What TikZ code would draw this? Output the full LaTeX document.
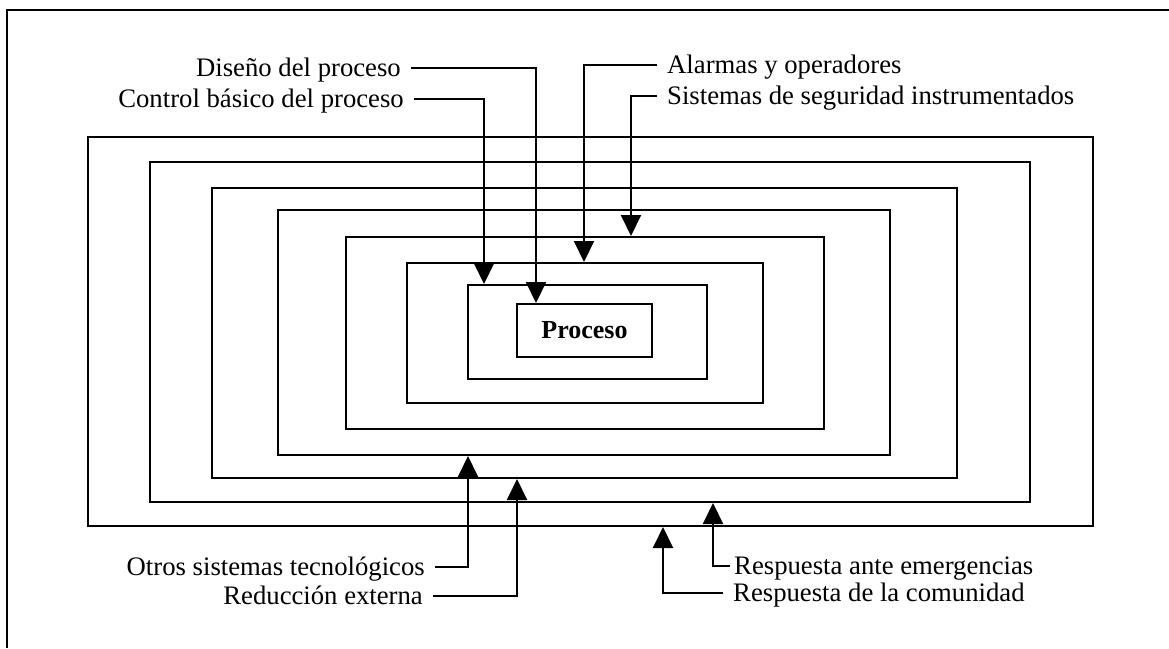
\documentclass[tikz,border=0pt]{standalone}
\usepackage{fontspec}
\setmainfont{Liberation Serif}
\usepackage{tikz}
\usetikzlibrary{arrows.meta}
\tikzstyle{layer} = [rectangle, draw=black, line width=2pt, inner sep=0pt]
\tikzstyle{tag} = [inner ysep=0pt, inner xsep=10pt, text height=19pt, text depth=3pt, font=\fontsize{26.7}{30}\selectfont]
\tikzstyle{arrow} = [line width=2pt, -{Triangle[length=21pt,width=20pt]}]

\begin{document}
\begin{tikzpicture}[x=1pt, y=-1pt]
        \useasboundingbox (0,0) rectangle (1169,648);
        \draw [line width=2pt] (1169,10) -| (7,648);

        % layers, outermost first
        \node (comunidad) [layer, minimum width=1005pt, minimum height=389pt] at (590.5,331.5) {};
        \node (emergencias) [layer, minimum width=880pt, minimum height=340pt] at (590,332) {};
        \node (reduccion) [layer, minimum width=745pt, minimum height=290pt] at (584.5,333) {};
        \node (otros) [layer, minimum width=612pt, minimum height=245pt] at (584,332.5) {};
        \node (sis) [layer, minimum width=478pt, minimum height=192pt] at (585,333) {};
        \node (alarmas) [layer, minimum width=356pt, minimum height=140pt] at (585,333) {};
        \node (control) [layer, minimum width=239pt, minimum height=94pt] at (587.5,332) {};
        \node (proceso) [layer, minimum width=135pt, minimum height=53pt, font=\fontsize{26}{30}\selectfont\bfseries] at (584.5,330.5) {Proceso};

        % labels
        \node (tDiseno) [tag, anchor=east] at (411,68) {Diseño del proceso};
        \node (tControl) [tag, anchor=east] at (414,99) {Control básico del proceso};
        \node (tAlarmas) [tag, anchor=west] at (657,65) {Alarmas y operadores};
        \node (tSis) [tag, anchor=west] at (657,96) {Sistemas de seguridad instrumentados};
        \node (tOtros) [tag, anchor=east] at (435,567) {Otros sistemas tecnológicos};
        \node (tReduccion) [tag, anchor=east] at (433,596) {Reducción externa};
        \node (tEmergencias) [tag, anchor=west, inner xsep=4pt] at (730,566) {Respuesta ante emergencias};
        \node (tComunidad) [tag, anchor=west] at (723,593) {Respuesta de la comunidad};

        \draw [arrow] (tDiseno.east) -| ([xshift=-48.5pt]proceso.north);
        \draw [arrow] (tControl.east) -| ([xshift=-103.5pt]control.north);
        \draw [arrow] (tAlarmas.west) -| ([xshift=-1pt]alarmas.north);
        \draw [arrow] (tSis.west) -| ([xshift=46pt]sis.north);
        \draw [arrow] (tOtros.east) -| ([xshift=-116pt]otros.south);
        \draw [arrow] (tReduccion.east) -| ([xshift=-67.5pt]reduccion.south);
        \draw [arrow] (tEmergencias.west) -| ([xshift=123pt]emergencias.south);
        \draw [arrow] (tComunidad.west) -| ([xshift=72.5pt]comunidad.south);

\end{tikzpicture}
\end{document}
